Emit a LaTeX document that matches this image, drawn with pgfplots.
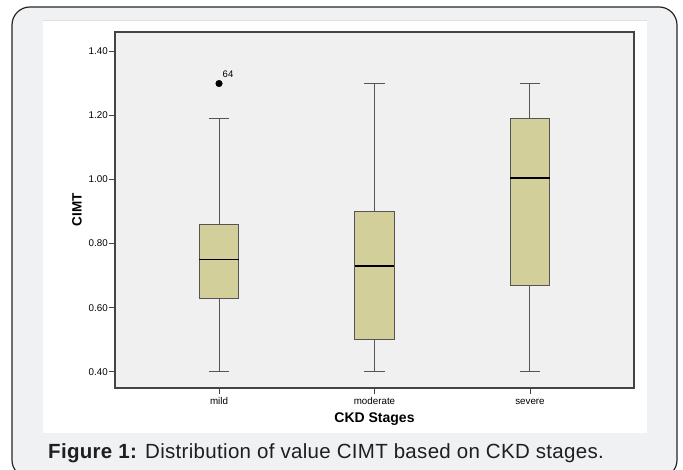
\documentclass[border=0pt]{standalone}
\usepackage{fontspec}
\setmainfont{Liberation Sans}
\newfontfamily\capfont[LetterSpace=1.5]{Liberation Sans}
\usepackage{pgfplots}
\pgfplotsset{compat=1.18}
\usepgfplotslibrary{statistics}
\definecolor{framebg}{HTML}{F0F1F3}
\definecolor{plotbg}{HTML}{F0F0F0}
\definecolor{boxfill}{HTML}{D3CF9A}
\definecolor{linegray}{HTML}{555555}
\definecolor{axisgray}{HTML}{444444}
\begin{document}
\begin{tikzpicture}[x=1pt,y=1pt]
\path[use as bounding box] (0,0) rectangle (683,470);
\begin{scope}
\clip (0,0) rectangle (683,470);
\draw[line width=1.2pt, fill=framebg, draw=black!85, rounded corners=18pt] (12,463) rectangle (677,-8);
\end{scope}
\fill[white] (43,37) rectangle (647,450);
\draw[black!12, line width=0.8pt] (43,450) -- (647,450);
\begin{axis}[
  at={(115pt,82pt)}, anchor=south west,
  scale only axis, width=519pt, height=356pt,
  xmin=0.331, xmax=3.669, ymin=0.349, ymax=1.461,
  axis background/.style={fill=plotbg},
  axis line style={draw=axisgray, line width=1.3pt},
  tick pos=left, tick align=outside, major tick length=6pt,
  tick style={draw=axisgray, line width=0.8pt},
  xtick={1,2,3}, xticklabels={mild,moderate,severe},
  ytick={0.40,0.60,0.80,1.00,1.20,1.40},
  /pgf/number format/fixed, /pgf/number format/fixed zerofill,
  /pgf/number format/precision=2, /pgf/number format/assume math mode=true,
  yticklabel style={font=\fontsize{9.8}{11}\selectfont, inner sep=1pt},
  xticklabel style={font=\fontsize{9.8}{11}\selectfont, inner sep=2pt, text height=1.6ex, text depth=0.3ex},
  xlabel={CKD Stages}, ylabel={CIMT},
  xlabel style={font=\bfseries\fontsize{14}{16}\selectfont, at={(axis description cs:0.5,-0.0983)}, anchor=base},
  ylabel style={font=\bfseries\fontsize{13.5}{15}\selectfont, at={(axis description cs:-0.0732,0.5)}, anchor=center},
  boxplot/draw direction=y,
  boxplot/every median/.style={draw=black, line width=1.7pt},
]
\addplot[boxplot prepared={draw position=1, lower whisker=0.40, lower quartile=0.63, median=0.75, upper quartile=0.86, upper whisker=1.19, box extend=0.257, whisker extend=0.129}, draw=linegray, fill=boxfill, line width=1pt] coordinates {};
\addplot[boxplot prepared={draw position=2, lower whisker=0.40, lower quartile=0.50, median=0.73, upper quartile=0.90, upper whisker=1.30, box extend=0.257, whisker extend=0.129}, draw=linegray, fill=boxfill, line width=1pt] coordinates {};
\addplot[boxplot prepared={draw position=3, lower whisker=0.40, lower quartile=0.67, median=1.005, upper quartile=1.19, upper whisker=1.30, box extend=0.257, whisker extend=0.129}, draw=linegray, fill=boxfill, line width=1pt] coordinates {};
\addplot[only marks, mark=*, mark size=3.3pt, black, nodes near coords={64},
  every node near coord/.append style={anchor=center, xshift=9pt, yshift=9pt, font=\fontsize{9.5}{11}\selectfont, black}] coordinates {(1,1.30)};
\end{axis}
\node[anchor=base west, inner sep=0pt, text=black!88, font=\capfont\fontsize{20.5}{24}\selectfont] at (48,11) {\textbf{Figure 1:} Distribution of value CIMT based on CKD stages.};
\end{tikzpicture}
\end{document}
